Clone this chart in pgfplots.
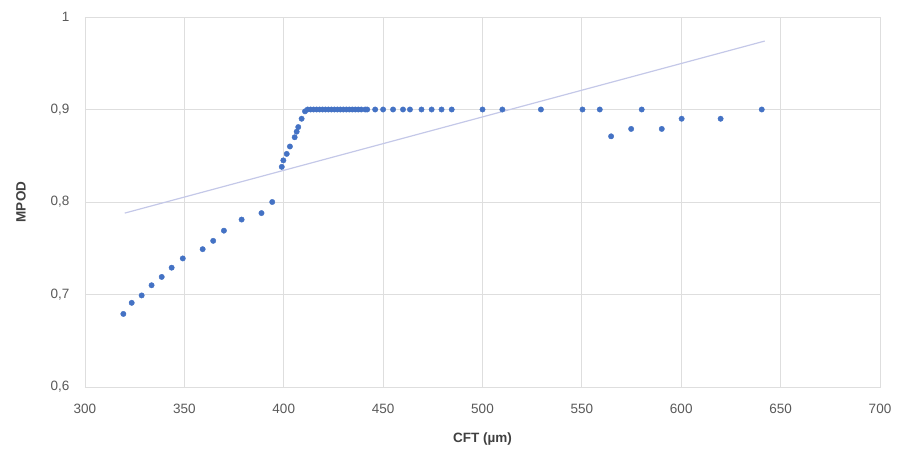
\documentclass[border=0pt]{standalone}
\usepackage{pgfplots}
\pgfplotsset{compat=1.18}
\usepackage{fontspec}
\setmainfont{Liberation Sans}
\definecolor{ptblue}{RGB}{68,114,196}
\definecolor{trend}{RGB}{196,200,232}
\definecolor{gridc}{RGB}{222,222,222}
\definecolor{ticktxt}{RGB}{89,89,89}

\begin{document}
\begin{tikzpicture}
\path[use as bounding box] (-85pt,-70pt) rectangle (816pt,387pt);
\begin{axis}[
  at={(0,0)}, anchor=south west,
  scale only axis, width=795pt, height=370pt,
  xmin=300, xmax=700, ymin=0.6, ymax=1,
  xtick={300,350,...,700}, ytick={0.6,0.7,0.8,0.9,1},
  grid=major, major grid style={gridc, line width=0.8pt},
  axis line style={gridc, line width=0.8pt},
  tick style={draw=none},
  /pgf/number format/use comma,
  /pgf/number format/assume math mode=true,
  tick label style={font=\fontsize{13.5}{15}\selectfont, text=ticktxt},
  xticklabel style={yshift=-14pt},
  yticklabel style={xshift=-12pt},
  xlabel={CFT (µm)}, ylabel={MPOD},
  label style={font=\bfseries\fontsize{13.5}{15}\selectfont, text=black!75},
  xlabel style={yshift=-12pt},
  ylabel style={yshift=18pt},
  clip=false,
]
\addplot[trend, line width=1.2pt] coordinates {(320,0.788) (642,0.974)};
\addplot[only marks, mark=*, mark size=2.7pt, mark options={fill=ptblue, draw=ptblue}] coordinates {
  (319.3,0.679) (323.5,0.691) (328.5,0.699) (333.5,0.710) (338.6,0.719)
  (343.6,0.729) (349.2,0.739) (359.2,0.749) (364.5,0.758) (369.9,0.769)
  (378.8,0.781) (388.8,0.788) (394.2,0.800)
  (399.0,0.838) (399.8,0.845) (401.5,0.852) (403.1,0.860) (405.5,0.870)
  (406.5,0.876) (407.3,0.881) (409.0,0.890) (410.7,0.898)
  (412,0.9) (413.5,0.9) (415,0.9) (416.5,0.9) (418,0.9) (419.5,0.9)
  (421,0.9) (422.5,0.9) (424,0.9) (425.5,0.9) (427,0.9) (428.5,0.9)
  (430,0.9) (431.5,0.9) (433,0.9) (434.5,0.9) (436,0.9) (437.5,0.9)
  (439,0.9) (441,0.9) (442,0.9) (446,0.9) (450,0.9) (455,0.9)
  (460,0.9) (463.5,0.9) (469.3,0.9) (474.4,0.9) (479.4,0.9) (484.5,0.9)
  (500,0.9) (510,0.9) (529.4,0.9) (550.3,0.9) (559,0.9) (564.7,0.871)
  (574.8,0.879) (580.1,0.9) (590.2,0.879) (600.2,0.890) (619.8,0.890)
  (640.5,0.9)
};
\end{axis}
\end{tikzpicture}
\end{document}
